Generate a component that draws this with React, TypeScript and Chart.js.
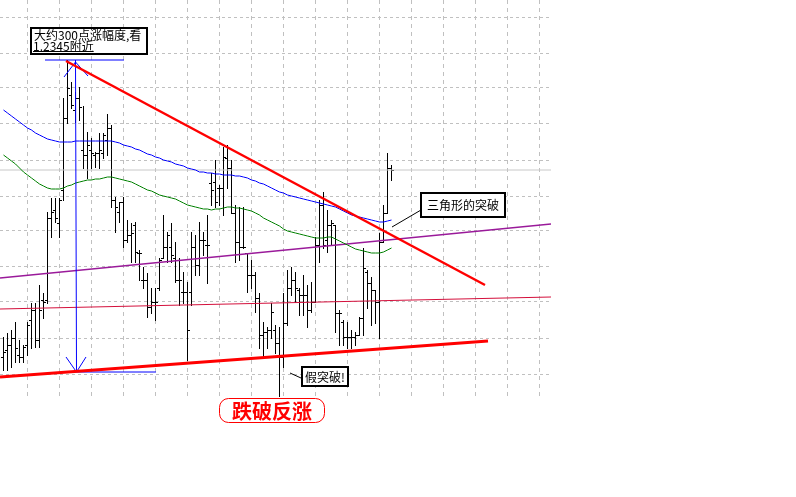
import { useEffect, useRef } from "react";
import { Chart, registerables } from "chart.js";

Chart.register(...registerables);

// ---- OHLC bars (price) ----
const highs = [
  1.2063, 1.2067, 1.207, 1.2078, 1.206, 1.2055, 1.2078, 1.2097, 1.2097, 1.2115,
  1.2107, 1.2188, 1.2202, 1.2202, 1.2202, 1.2302, 1.234, 1.2318, 1.2308, 1.2313,
  1.2294, 1.2268, 1.2262, 1.2248, 1.2267, 1.2267, 1.2286, 1.2275, 1.2203, 1.2198,
  1.2203, 1.218, 1.2177, 1.2178, 1.215, 1.2133, 1.2127, 1.2112, 1.2112, 1.2142,
  1.2185, 1.2168, 1.2177, 1.2158, 1.2142, 1.2128, 1.2118, 1.2168, 1.2165, 1.2178,
  1.2168, 1.2185, 1.2227, 1.224, 1.2215, 1.2253, 1.2255, 1.224, 1.2195, 1.2193,
  1.2193, 1.2147, 1.214, 1.2128, 1.2107, 1.2078, 1.2073, 1.2097, 1.2075, 1.2073,
  1.2107, 1.213, 1.2133, 1.2128, 1.2112, 1.2125, 1.2115, 1.2118, 1.2163, 1.22,
  1.2208, 1.219, 1.218, 1.2175, 1.209, 1.208, 1.2078, 1.207, 1.2068, 1.2083,
  1.2152, 1.213, 1.2123, 1.211, 1.2167, 1.2195, 1.2247, 1.2235,
];
const lows = [
  1.203, 1.203, 1.2033, 1.2038, 1.2038, 1.2038, 1.2045, 1.2052, 1.2053, 1.2053,
  1.2082, 1.2097, 1.2163, 1.2178, 1.2163, 1.22, 1.2277, 1.2292, 1.2278, 1.228,
  1.2232, 1.2222, 1.2232, 1.2233, 1.2232, 1.2242, 1.2245, 1.2193, 1.2168, 1.2178,
  1.2153, 1.2158, 1.2138, 1.2138, 1.212, 1.2112, 1.2083, 1.2087, 1.208, 1.211,
  1.2142, 1.2138, 1.2138, 1.2118, 1.2095, 1.2097, 1.204, 1.2095, 1.2125, 1.2125,
  1.2145, 1.2117, 1.2195, 1.2193, 1.2195, 1.2185, 1.2212, 1.2187, 1.2138, 1.214,
  1.2152, 1.2108, 1.2112, 1.2088, 1.2052, 1.2043, 1.2052, 1.2062, 1.2047, 1.2004,
  1.2033, 1.2075, 1.2105, 1.2098, 1.2085, 1.2085, 1.2073, 1.2088, 1.2098, 1.2138,
  1.2152, 1.2148, 1.2155, 1.2068, 1.2055, 1.2055, 1.2052, 1.2052, 1.2055, 1.2065,
  1.2065, 1.2092, 1.2075, 1.2077, 1.2062, 1.2158, 1.2187, 1.222,
];
const opens = [
  1.2043, 1.205, 1.2055, 1.2062, 1.2045, 1.2043, 1.2055, 1.208, 1.209, 1.206,
  1.21, 1.21, 1.2182, 1.219, 1.2177, 1.221, 1.2282, 1.2305, 1.229, 1.2302,
  1.225, 1.2245, 1.225, 1.2245, 1.2247, 1.2247, 1.226, 1.2272, 1.22, 1.2188,
  1.2198, 1.216, 1.2165, 1.2175, 1.2147, 1.212, 1.212, 1.2093, 1.2098, 1.2112,
  1.2142, 1.2153, 1.2153, 1.2142, 1.212, 1.2108, 1.2108, 1.2108, 1.2153, 1.2135,
  1.216, 1.2155, 1.2217, 1.2218, 1.2212, 1.2212, 1.2242, 1.2232, 1.2187, 1.2158,
  1.2153, 1.2147, 1.2125, 1.2125, 1.2102, 1.2065, 1.2068, 1.207, 1.207, 1.2057,
  1.2043, 1.2077, 1.2112, 1.212, 1.211, 1.2105, 1.2105, 1.209, 1.2098, 1.2155,
  1.2195, 1.216, 1.2175, 1.2175, 1.2087, 1.2078, 1.2063, 1.2063, 1.2063, 1.2065,
  1.2082, 1.2128, 1.2117, 1.211, 1.2098, 1.2158, 1.2187, 1.2232,
];
const closes = [
  1.2048, 1.2055, 1.2062, 1.2052, 1.2043, 1.2053, 1.2075, 1.209, 1.206, 1.209,
  1.2098, 1.2182, 1.2188, 1.2182, 1.22, 1.2282, 1.2312, 1.2295, 1.2302, 1.2293,
  1.2245, 1.2255, 1.2247, 1.2247, 1.225, 1.2265, 1.2272, 1.22, 1.2193, 1.2198,
  1.216, 1.2165, 1.2167, 1.2148, 1.2147, 1.212, 1.2093, 1.2098, 1.2098, 1.214,
  1.2153, 1.2165, 1.2145, 1.212, 1.212, 1.2108, 1.207, 1.2153, 1.2135, 1.216,
  1.216, 1.2155, 1.221, 1.2198, 1.2212, 1.2243, 1.2232, 1.2187, 1.2158, 1.2153,
  1.2153, 1.2125, 1.2125, 1.2102, 1.2065, 1.2068, 1.207, 1.2088, 1.2057, 1.2043,
  1.2077, 1.2112, 1.212, 1.2112, 1.2105, 1.2105, 1.209, 1.2098, 1.2155, 1.2195,
  1.2155, 1.2175, 1.2177, 1.2087, 1.2087, 1.2063, 1.2063, 1.2063, 1.2065, 1.2082,
  1.2132, 1.2117, 1.211, 1.2098, 1.2158, 1.2187, 1.2232, 1.223,
];

// ---- moving averages ----
const maBlue = [
  1.229, 1.2287, 1.2284, 1.2281, 1.2278, 1.2275, 1.2272, 1.227, 1.2267, 1.2265,
  1.2263, 1.2261, 1.226, 1.2259, 1.2258, 1.2258, 1.2258, 1.2258, 1.2259, 1.2259,
  1.2259, 1.2259, 1.2259, 1.2259, 1.2259, 1.2259, 1.2259, 1.2259, 1.2258, 1.2257,
  1.2255, 1.2254, 1.2253, 1.2251, 1.225, 1.2248, 1.2246, 1.2245, 1.2243, 1.2242,
  1.224, 1.2239, 1.2238, 1.2236, 1.2235, 1.2234, 1.2232, 1.2231, 1.223, 1.2228,
  1.2228, 1.2227, 1.2227, 1.2226, 1.2226, 1.2225, 1.2225, 1.2225, 1.2224, 1.2224,
  1.2223, 1.2222, 1.222, 1.2219, 1.2217, 1.2216, 1.2214, 1.2212, 1.221, 1.2208,
  1.2207, 1.2205, 1.2204, 1.2203, 1.2202, 1.2201, 1.22, 1.2199, 1.2198, 1.2197,
  1.2196, 1.2195, 1.2194, 1.2193, 1.2191, 1.2189, 1.2187, 1.2185, 1.2184, 1.2183,
  1.2182, 1.2181, 1.218, 1.2179, 1.2178, 1.2178, 1.2179, 1.218,
];
const maGreen = [
  1.2245, 1.2242, 1.2239, 1.2236, 1.2232, 1.2228, 1.2225, 1.2222, 1.2219, 1.2216,
  1.2214, 1.2212, 1.2211, 1.2211, 1.2211, 1.2212, 1.2214, 1.2215, 1.2217, 1.2218,
  1.2219, 1.222, 1.222, 1.2221, 1.2221, 1.2222, 1.2223, 1.2223, 1.2222, 1.2221,
  1.222, 1.2219, 1.2218, 1.2216, 1.2214, 1.2212, 1.221, 1.2209, 1.2207, 1.2205,
  1.2204, 1.2203, 1.2202, 1.2201, 1.2199, 1.2197, 1.2195, 1.2194, 1.2193, 1.2192,
  1.2191, 1.2191, 1.219, 1.2191, 1.2191, 1.2192, 1.2193, 1.2193, 1.2192, 1.2192,
  1.2191, 1.219, 1.2189, 1.2187, 1.2185, 1.2182, 1.218, 1.2178, 1.2176, 1.2174,
  1.2171, 1.2169, 1.2168, 1.2167, 1.2166, 1.2165, 1.2164, 1.2163, 1.2162, 1.2162,
  1.2162, 1.2163, 1.2163, 1.2161, 1.2159, 1.2157, 1.2155, 1.2153, 1.2151, 1.215,
  1.2149, 1.2148, 1.2147, 1.2147, 1.2147, 1.2148, 1.215, 1.2152,
];

// ---- grid tick positions (no labels shown) ----
const xGridTicks = [
  6, 14, 22, 30, 38, 46, 54, 62, 70, 78, 86, 94, 102, 110, 118, 126, 134,
];
const yGridTicks = [
  1.2383, 1.2347, 1.2312, 1.2276, 1.224, 1.2204, 1.2169, 1.2133, 1.2098, 1.2062,
  1.2026,
];

// ---- drawn objects: [bar index, price] ----
const resistanceLine = [[15.625, 1.2339], [120.375, 1.2115]];
const supportLine = [[-0.875, 1.2023], [121.125, 1.2059]];
const purpleLine = [[-0.875, 1.2122], [136.875, 1.2176]];
const pinkLine = [[-0.875, 1.2091], [136.875, 1.2103]];
const priceLine = [[-0.875, 1.223], [136.875, 1.223]];
const rangeArrow = [[18, 1.234], [18.25, 1.2028]];
const rangeTop = [[10.375, 1.234], [30.125, 1.234]];
const rangeBottom = [[16.125, 1.2028], [38.125, 1.2028]];
const arrowHeadTop = [[15.125, 1.2323], [18, 1.2338], [21.125, 1.2324]];
const arrowHeadBottom = [[15.625, 1.2043], [18.25, 1.2028], [20.625, 1.2043]];
const pointerTriangle = [[97.125, 1.2173], [104.375, 1.219]];
const pointerFalse = [[71.625, 1.2027], [74.375, 1.2022]];

const noteRange = ["大约300点涨幅度,看", "1.2345附近"];
const noteTriangle = "三角形的突破";
const noteFalse = "假突破!";
const noteRebound = "跌破反涨";

const pts = (a: number[][]) => a.map(([x, y]) => ({ x, y }));

const lineDs = (data: { x: number; y: number }[], color: string, width: number) => ({
  type: "line" as const,
  data,
  borderColor: color,
  borderWidth: width,
  pointRadius: 0,
  fill: false,
  tension: 0,
});

const ohlcPlugin = {
  id: "ohlc",
  beforeDatasetsDraw(chart: any) {
    const { ctx } = chart;
    const xs = chart.scales.x;
    const ys = chart.scales.y;
    ctx.save();
    ctx.fillStyle = "#000000";
    for (let i = 0; i < highs.length; i++) {
      const cx = Math.floor(xs.getPixelForValue(i));
      const yh = Math.round(ys.getPixelForValue(highs[i]));
      const yl = Math.round(ys.getPixelForValue(lows[i]));
      const yo = Math.round(ys.getPixelForValue(opens[i]));
      const yc = Math.round(ys.getPixelForValue(closes[i]));
      ctx.fillRect(cx, yh, 1, yl - yh + 1);
      ctx.fillRect(cx - 2, yo, 2, 1);
      ctx.fillRect(cx + 1, yc, 2, 1);
    }
    ctx.restore();
  },
};

const FONT = "'Noto Sans CJK SC', 'Noto Sans', sans-serif";

const notesPlugin = {
  id: "notes",
  afterDatasetsDraw(chart: any) {
    const { ctx } = chart;
    const xs = chart.scales.x;
    const ys = chart.scales.y;
    const px = (v: number) => Math.round(xs.getPixelForValue(v));
    const py = (v: number) => Math.round(ys.getPixelForValue(v));
    ctx.save();

    const box = (x0: number, y0: number, x1: number, y1: number) => {
      const l = px(x0), t = py(y0), r = px(x1), b = py(y1);
      ctx.fillStyle = "#ffffff";
      ctx.fillRect(l, t, r - l, b - t);
      ctx.strokeStyle = "#000000";
      ctx.lineWidth = 2;
      ctx.strokeRect(l + 1, t + 1, r - l - 2, b - t - 2);
      return { l, t, r, b };
    };

    ctx.font = `12px ${FONT}`;
    ctx.textBaseline = "middle";
    ctx.textAlign = "left";

    // range note
    const b1 = box(6.625, 1.2373, 36.125, 1.2345);
    ctx.fillStyle = "#000000";
    ctx.fillText(noteRange[0], b1.l + 4, b1.t + 8.5);
    ctx.fillText(noteRange[1], b1.l + 3, b1.t + 19);
    const w2 = ctx.measureText(noteRange[1]).width;
    ctx.fillRect(b1.l + 3, b1.t + 24, w2, 1);

    // triangle breakout
    const b2 = box(104.125, 1.2208, 125.625, 1.2182);
    ctx.fillStyle = "#000000";
    ctx.fillText(noteTriangle, b2.l + 7, (b2.t + b2.b) / 2 + 0.5);

    // false break
    const b3 = box(74.375, 1.2034, 86.375, 1.2013);
    ctx.fillStyle = "#000000";
    ctx.fillText(noteFalse, b3.l + 4, (b3.t + b3.b) / 2 + 0.5);

    // rebound label
    const l = px(53.875), t = py(1.2002), r = px(80.375), b = py(1.1977);
    ctx.strokeStyle = "#ff0000";
    ctx.lineWidth = 1;
    ctx.beginPath();
    ctx.roundRect(l + 0.5, t + 0.5, r - l - 1, b - t - 1, 9);
    ctx.stroke();
    ctx.fillStyle = "#ff0000";
    ctx.font = `bold 20px ${FONT}`;
    ctx.textAlign = "center";
    ctx.fillText(noteRebound, (l + r) / 2, (t + b) / 2 + 1);

    ctx.restore();
  },
};

export default function App() {
  const ref = useRef<HTMLCanvasElement>(null);

  useEffect(() => {
    document.body.style.margin = "0";
    const canvas = ref.current;
    if (!canvas) return;

    const chart = new Chart(canvas, {
      type: "line",
      data: {
        datasets: [
          lineDs(pts(resistanceLine), "#ff0000", 2.5),
          lineDs(pts(supportLine), "#ff0000", 3),
          lineDs(pts(rangeArrow), "#0000ff", 1),
          lineDs(pts(rangeTop), "#0000ff", 1),
          lineDs(pts(rangeBottom), "#0000ff", 1),
          lineDs(pts(arrowHeadTop), "#0000ff", 1),
          lineDs(pts(arrowHeadBottom), "#0000ff", 1),
          lineDs(pts(pointerTriangle), "#000000", 1),
          lineDs(pts(pointerFalse), "#000000", 1),
          lineDs(maBlue.map((y, i) => ({ x: i, y })), "#0000ff", 1),
          lineDs(maGreen.map((y, i) => ({ x: i, y })), "#008000", 1),
          lineDs(pts(purpleLine), "#9a1a9a", 1.5),
          lineDs(pts(pinkLine), "#d4103c", 1.2),
          lineDs(pts(priceLine), "#c8c8c8", 1),
        ],
      },
      options: {
        responsive: false,
        animation: false,
        devicePixelRatio: 1,
        layout: { padding: { left: 0, top: 0, right: 245, bottom: 97 } },
        plugins: {
          legend: { display: false },
          tooltip: { enabled: false },
          title: { display: false },
        },
        events: [],
        scales: {
          x: {
            type: "linear",
            min: -0.875,
            max: 136.875,
            ticks: { display: false },
            grid: { color: "#c0c0c0", drawTicks: false, lineWidth: 1 },
            border: { display: false, dash: [4, 4] },
            afterBuildTicks: (s: any) => {
              s.ticks = xGridTicks.map((value) => ({ value }));
            },
            afterFit: (s: any) => {
              s.height = 0;
            },
          },
          y: {
            type: "linear",
            min: 1.2,
            max: 1.24,
            ticks: { display: false },
            grid: { color: "#c0c0c0", drawTicks: false, lineWidth: 1 },
            border: { display: false, dash: [3, 3] },
            afterBuildTicks: (s: any) => {
              s.ticks = yGridTicks.map((value) => ({ value }));
            },
            afterFit: (s: any) => {
              s.width = 0;
            },
          },
        },
      } as any,
      plugins: [ohlcPlugin, notesPlugin],
    });

    return () => chart.destroy();
  }, []);

  return (
    <div
      style={{
        position: "absolute",
        left: 0,
        top: 0,
        width: 796,
        height: 497,
        background: "#ffffff",
      }}
    >
      <canvas
        ref={ref}
        width={796}
        height={497}
        style={{ display: "block", width: 796, height: 497 }}
      />
    </div>
  );
}
